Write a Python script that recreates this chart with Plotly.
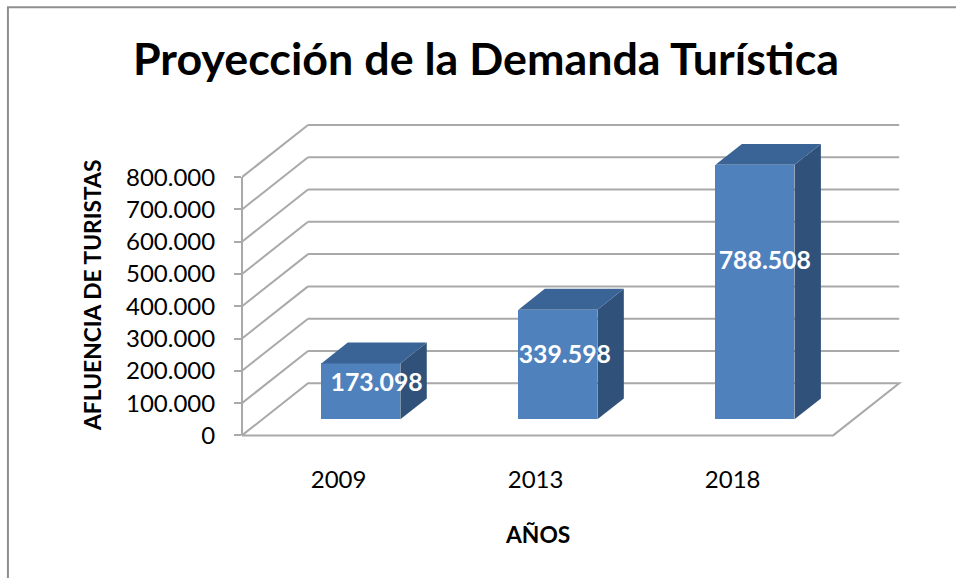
import plotly.graph_objects as go

# ---- data ----
YEARS = ["2009", "2013", "2018"]
VISITORS = [173098, 339598, 788508]
TICK_VALUES = [0, 100000, 200000, 300000, 400000, 500000, 600000, 700000, 800000]
TITLE = "Proyección de la Demanda Turística"
Y_TITLE = "AFLUENCIA DE TURISTAS"
X_TITLE = "AÑOS"


def es(v):
    return f"{v:,}".replace(",", ".")


TICK_LABELS = [es(v) for v in TICK_VALUES]

# ---- style / geometry ----
FONT = "Lato, Carlito, Calibri, sans-serif"
FRONT, SIDE, TOP = "#4f81bd", "#30527a", "#3b6496"
GRID = "#a9a9a9"
FRAME = "#8f8f8f"
W_FIG, H_FIG = 956, 578
PX_PER_CAT = 197.0
PX_PER_VAL = 32.2 / 100000
LEFT_PX, ZERO_PX = 242.0, 435.0
DEPTH_X, DEPTH_Y = 66 / PX_PER_CAT, 52 / PX_PER_VAL   # oblique wall offset in data units
BAR_START, BAR_DEPTH = 0.308, 0.40                     # fractions of the oblique depth
BAR_WIDTH = 79 / PX_PER_CAT
LABEL_DX = [0.08, 0.035, 0.05]                         # label offset from the bar centre
LABEL_FRAC = [0.62, 0.57, 0.615]                       # label height as a share of the bar
X_MAX, Y_MIN, Y_MAX = 3.4, -5000, 980000

M_L = LEFT_PX
M_T = ZERO_PX - Y_MAX * PX_PER_VAL
PLOT_W = X_MAX * PX_PER_CAT
PLOT_H = (Y_MAX - Y_MIN) * PX_PER_VAL
M_R = W_FIG - M_L - PLOT_W
M_B = H_FIG - M_T - PLOT_H


def paper_x(px):
    return (px - M_L) / PLOT_W


def paper_y(py):
    return 1 - (py - M_T) / PLOT_H


n = len(YEARS)
base = BAR_START * DEPTH_Y
centers = [i + 0.5 + BAR_START * DEPTH_X for i in range(n)]
dx, dy = BAR_DEPTH * DEPTH_X, BAR_DEPTH * DEPTH_Y

fig = go.Figure()

# bar front faces
fig.add_trace(go.Bar(
    x=centers, y=VISITORS, base=base, width=BAR_WIDTH,
    marker=dict(color=FRONT, line=dict(width=0)),
    showlegend=False, hoverinfo="skip",
))

# top and side faces, derived from the same values
for c, v in zip(centers, VISITORS):
    l, r = c - BAR_WIDTH / 2, c + BAR_WIDTH / 2
    t = base + v
    fig.add_trace(go.Scatter(
        x=[r, r + dx, r + dx, r, r], y=[base, base + dy, t + dy, t, base],
        mode="lines", fill="toself", fillcolor=SIDE, line=dict(width=0),
        showlegend=False, hoverinfo="skip",
    ))
    fig.add_trace(go.Scatter(
        x=[l, l + dx, r + dx, r, l], y=[t, t + dy, t + dy, t, t],
        mode="lines", fill="toself", fillcolor=TOP, line=dict(width=0),
        showlegend=False, hoverinfo="skip",
    ))

# data labels
fig.add_trace(go.Scatter(
    x=[c + d for c, d in zip(centers, LABEL_DX)],
    y=[base + f * v for f, v in zip(LABEL_FRAC, VISITORS)],
    text=[es(v) for v in VISITORS],
    mode="text", textposition="middle center",
    textfont=dict(family=FONT, size=24.8, color="white", weight="bold"),
    showlegend=False, hoverinfo="skip", cliponaxis=False,
))

# walls and floor
grid_line = dict(color=GRID, width=2)
shapes = []
for v in TICK_VALUES[1:]:
    shapes.append(dict(type="line", layer="below", xref="x", yref="y",
                       x0=0, y0=v, x1=DEPTH_X, y1=v + DEPTH_Y, line=grid_line))
    shapes.append(dict(type="line", layer="below", xref="x", yref="y",
                       x0=DEPTH_X, y0=v + DEPTH_Y, x1=n + DEPTH_X, y1=v + DEPTH_Y, line=grid_line))
shapes.append(dict(type="path", layer="below", xref="x", yref="y",
                   path=f"M 0 0 L {n} 0 L {n + DEPTH_X} {DEPTH_Y} L {DEPTH_X} {DEPTH_Y} Z",
                   line=grid_line))
shapes.append(dict(type="line", layer="below", xref="paper", yref="y",
                   x0=0, x1=0, y0=0, y1=TICK_VALUES[-1], line=grid_line))
# chart frame (left and top edges are visible)
shapes.append(dict(type="path", xref="paper", yref="paper",
                   path=f"M {paper_x(8)} {paper_y(H_FIG + 5)} L {paper_x(8)} {paper_y(8)} "
                        f"L {paper_x(W_FIG + 5)} {paper_y(8)}",
                   line=dict(color=FRAME, width=2)))

fig.update_layout(
    width=W_FIG, height=H_FIG,
    margin=dict(l=M_L, r=M_R, t=M_T, b=M_B, autoexpand=False),
    paper_bgcolor="white", plot_bgcolor="rgba(0,0,0,0)",
    font=dict(family=FONT, color="black"),
    title=dict(text=TITLE, x=486 / W_FIG, xref="container",
               xanchor="center", y=1 - 59 / H_FIG, yref="container", yanchor="middle",
               font=dict(family=FONT, size=44.8, color="black", weight="bold")),
    xaxis=dict(range=[0, X_MAX], tickmode="array",
               tickvals=[i + 0.49 for i in range(n)], ticktext=YEARS,
               showgrid=False, zeroline=False, showline=False, ticks="",
               ticklabelstandoff=26, tickfont=dict(size=24, family=FONT, color="black")),
    yaxis=dict(range=[Y_MIN, Y_MAX], tickmode="array",
               tickvals=TICK_VALUES, ticktext=TICK_LABELS,
               showgrid=False, zeroline=False, showline=False,
               ticks="outside", ticklen=7, tickwidth=2, tickcolor=GRID,
               ticklabelstandoff=14, tickfont=dict(size=24, family=FONT, color="black")),
    shapes=shapes,
    annotations=[
        dict(text=Y_TITLE, xref="paper", yref="paper", x=paper_x(92), y=paper_y(295),
             xanchor="center", yanchor="middle", textangle=-90, showarrow=False,
             font=dict(family=FONT, size=22.8, color="black", weight="bold")),
        dict(text=X_TITLE, xref="paper", yref="paper", x=paper_x(537), y=paper_y(533),
             xanchor="center", yanchor="middle", showarrow=False,
             font=dict(family=FONT, size=22.8, color="black", weight="bold")),
    ],
    bargap=0,
)

# the page's default 8px body margin would shift the whole figure
fig.write_html("out.html", config=dict(displayModeBar=False),
               post_script="document.body.style.margin='0';")
